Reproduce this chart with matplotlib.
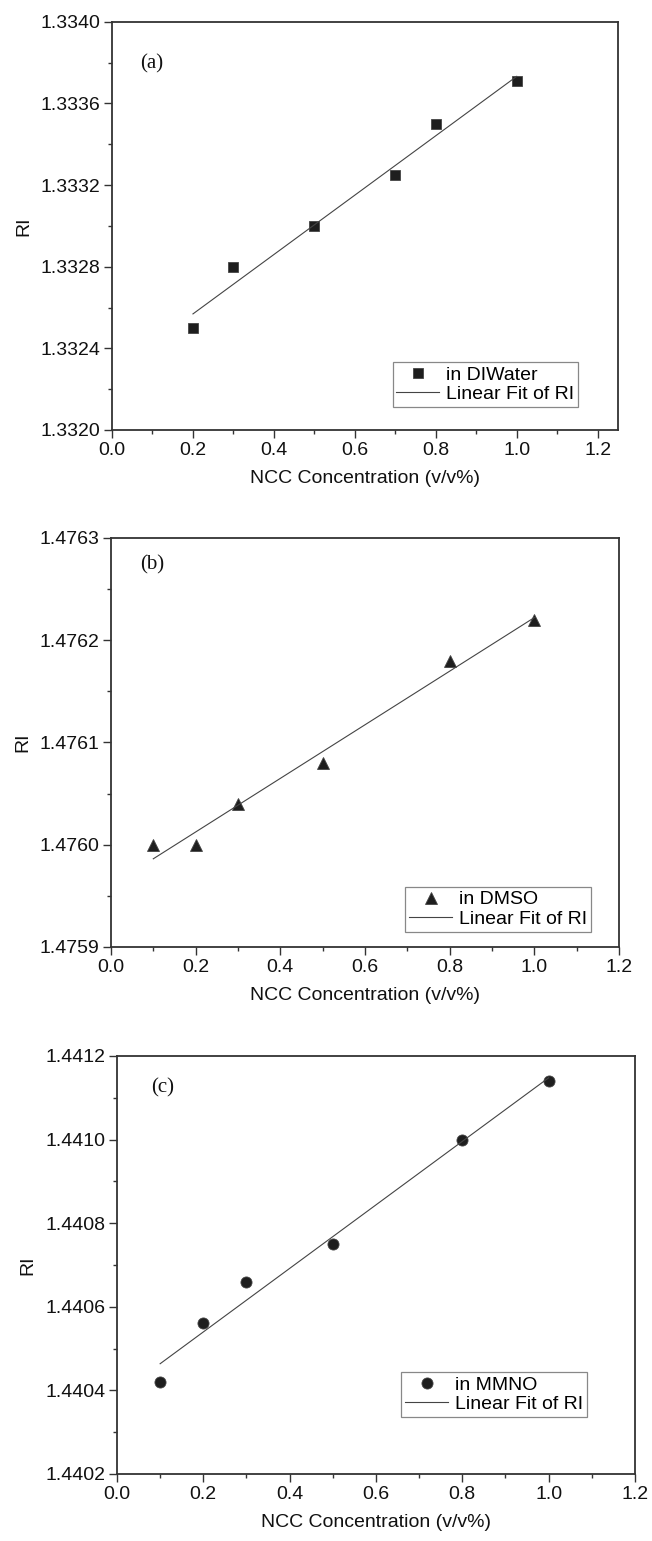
import matplotlib
matplotlib.use('Agg')
import matplotlib.pyplot as plt
from matplotlib.ticker import MultipleLocator, FormatStrFormatter
import numpy as np

plt.rcParams['font.family'] = ['Liberation Sans', 'DejaVu Sans']

# Data
x_water = [0.2, 0.3, 0.5, 0.7, 0.8, 1.0]
ri_water = [1.3325, 1.3328, 1.3330, 1.33325, 1.3335, 1.33371]

x_dmso = [0.1, 0.2, 0.3, 0.5, 0.8, 1.0]
ri_dmso = [1.47600, 1.47600, 1.47604, 1.47608, 1.47618, 1.47622]

x_mmno = [0.1, 0.2, 0.3, 0.5, 0.8, 1.0]
ri_mmno = [1.44042, 1.44056, 1.44066, 1.44075, 1.44100, 1.44114]

panel_tags = ['(a)', '(b)', '(c)']
legend_names = ['in DIWater', 'in DMSO', 'in MMNO']
markers = ['s', '^', 'o']
msizes = [7, 8, 8]
xlims = [(0, 1.25), (0, 1.2), (0, 1.2)]
ylims = [(1.3320, 1.3340), (1.4759, 1.4763), (1.4402, 1.4412)]
ymajor = [0.0004, 0.0001, 0.0002]
yminor = [0.0002, 0.00005, 0.0001]

# axes boxes in figure fraction [left, bottom, width, height]
boxes = [[0.1718, 0.721, 0.776, 0.2648],
         [0.1702, 0.3855, 0.779, 0.2654],
         [0.1794, 0.0435, 0.7945, 0.2713]]
tag_pos = [(0.055, 0.897), (0.057, 0.934), (0.066, 0.923)]
leg_anchor = [(0.921, 0.056), (0.945, 0.037), (0.907, 0.136)]

xs = [x_water, x_dmso, x_mmno]
ys = [ri_water, ri_dmso, ri_mmno]

dark = '#1e1e1e'
spine_c = '#333333'

fig = plt.figure(figsize=(6.52, 15.41), dpi=100)

for i in range(3):
    ax = fig.add_axes(boxes[i])
    x = np.array(xs[i])
    y = np.array(ys[i])
    ax.plot(x, y, linestyle='none', marker=markers[i], ms=msizes[i],
            color=dark, mec='#444444', mew=0.6, label=legend_names[i])
    k, b = np.polyfit(x, y, 1)  # linear fit of RI
    xf = np.array([x.min(), x.max()])
    ax.plot(xf, k*xf + b, color='#444444', lw=0.8, label='Linear Fit of RI')

    ax.set_xlim(*xlims[i])
    ax.set_ylim(*ylims[i])
    ax.xaxis.set_major_locator(MultipleLocator(0.2))
    ax.xaxis.set_minor_locator(MultipleLocator(0.1))
    ax.xaxis.set_major_formatter(FormatStrFormatter('%.1f'))
    ax.yaxis.set_major_locator(MultipleLocator(ymajor[i]))
    ax.yaxis.set_minor_locator(MultipleLocator(yminor[i]))
    ax.yaxis.set_major_formatter(FormatStrFormatter('%.4f'))

    for s in ax.spines.values():
        s.set_linewidth(1.3)
        s.set_color(spine_c)
    ax.tick_params(which='both', direction='out', colors=spine_c,
                   labelcolor='#111111', labelsize=14, width=1.0, pad=3)
    ax.tick_params(which='major', length=5.5)
    ax.tick_params(which='minor', length=3)

    ax.set_xlabel('NCC Concentration (v/v%)', fontsize=14, color='#111111', labelpad=8)
    ax.set_ylabel('RI', fontsize=14, color='#111111', labelpad=6)

    ax.text(tag_pos[i][0], tag_pos[i][1], panel_tags[i], transform=ax.transAxes,
            fontsize=15, family=['Liberation Serif', 'DejaVu Serif'],
            va='center', ha='left', color='#111111')

    leg = ax.legend(loc='lower right', bbox_to_anchor=leg_anchor[i],
                    borderaxespad=0, fontsize=14, numpoints=1, fancybox=False,
                    edgecolor='#888888', framealpha=1, handlelength=2.2,
                    handletextpad=0.35, labelspacing=0.1, borderpad=0.2)
    leg.get_frame().set_linewidth(0.9)

fig.savefig('out.png', dpi=100)
